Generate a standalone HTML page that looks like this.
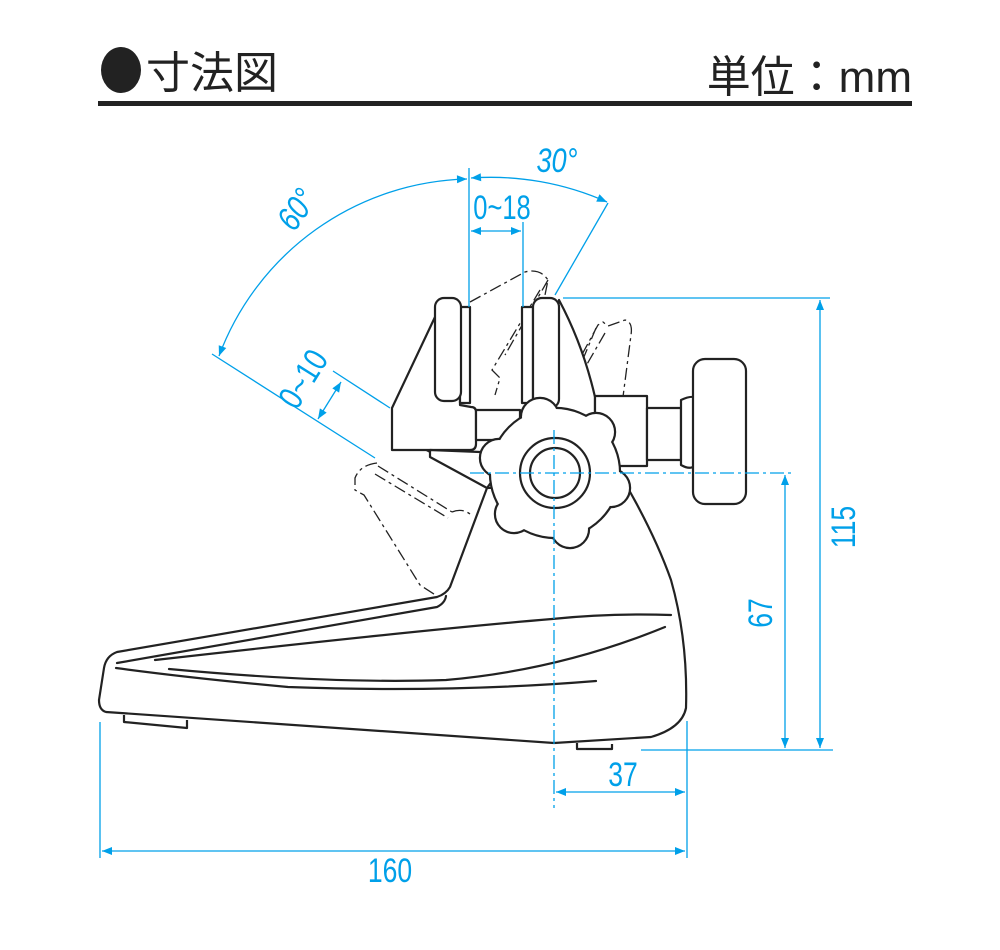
<!DOCTYPE html>
<html><head><meta charset="utf-8"><style>
html,body{margin:0;padding:0;background:#fff;}
svg{display:block;}
.k{fill:none;stroke:#222;stroke-width:2.2;stroke-linejoin:round;stroke-linecap:round;}
.kw{fill:#fff;stroke:#222;stroke-width:2.2;stroke-linejoin:round;}
.ph{fill:none;stroke:#222;stroke-width:1.3;stroke-dasharray:12 4 3 4;}
.c{fill:none;stroke:#00a0e9;stroke-width:1.3;}
.cd{fill:none;stroke:#00a0e9;stroke-width:1.3;stroke-dasharray:14 4 3 4;}
.t{fill:#00a0e9;font-family:"Liberation Sans",sans-serif;font-size:34px;}
</style></head><body>
<svg width="1000" height="950" viewBox="0 0 1000 950" xmlns="http://www.w3.org/2000/svg">
<defs>
<marker id="a" viewBox="0 0 10 10" refX="10" refY="5" markerWidth="14" markerHeight="10" markerUnits="userSpaceOnUse" orient="auto-start-reverse"><path d="M0,1 L10,5 L0,9 Z" fill="#00a0e9"/></marker>
</defs>
<!-- header -->
<ellipse cx="121" cy="70" rx="20" ry="23" fill="#222"/>
<text x="146" y="88" font-family="'Liberation Sans','Noto Sans CJK JP',sans-serif" font-size="44" fill="#222">寸法図</text>
<text x="912" y="92" text-anchor="end" font-family="'Liberation Sans','Noto Sans CJK JP',sans-serif" font-size="44" fill="#222">単位：mm</text>
<rect x="98" y="101" width="814" height="5" fill="#222"/>

<!-- phantom jaws -->
<path class="ph" d="M470,302 L525,272 Q540,268 548,280 L544,300 M548,280 L505,355 M540,290 L498,360 L492,370 L500,378 L495,395"/>
<path class="ph" d="M560,395 L598,325 L603,322 L608,326 L625,320 Q633,322 631,335 L620,420 L612,450 M596,328 L568,395 M605,333 L575,385"/>
<path class="ph" d="M478,440 L408,418 Q398,420 400,432 L402,445 M405,425 L480,470 M403,438 L478,478"/>
<path class="ph" d="M377,463 Q360,465 355,478 L355,490 L364,495 L420,585 L437,596 M378,466 L452,512 M375,474 L448,518 M452,512 Q462,508 470,514"/>

<!-- base -->
<path class="kw" d="M487,488 L450,587 Q446,594 437,597 L117,652 Q106,656 104,668 L99,700 Q99,710 106,712 L554,743 L651,737 Q682,728 686,708 Q688,640 671,580 Q655,535 625,483 Z"/>
<path class="k" d="M117,663 L437,607 Q445,603 446,596"/>
<path class="k" d="M155,660 Q420,630 552,619 Q610,613 671,615"/>
<path class="k" d="M116,668 Q190,678 288,687 Q450,693 596,681"/>
<path class="k" d="M169,669 Q330,684 446,680 Q560,670 665,627"/>
<path class="kw" d="M124,715 L124,722 L187,728 L187,720"/>
<path class="kw" d="M577,743 L577,749 L612,749 L612,744"/>

<!-- frame head -->
<path class="kw" d="M435,317 L392,408 L392,450 L470,450 Q476,450 476,444 L476,412 Q476,407 471,407 L460,405 L460,317 Z"/>
<path class="kw" d="M430,450 L430,457 L487,488 L500,470 L480,452 Z"/>
<path class="kw" d="M476,410 L520,410 L520,440 L476,440 Z"/>
<path class="kw" d="M559,300 Q583,345 595,397 L595,460 L560,470 L545,405 Z"/>
<rect class="kw" x="595" y="396" width="52" height="70"/>
<rect class="kw" x="647" y="408" width="34" height="52"/>
<path class="kw" d="M681,400 Q692,395 694,398 L694,466 Q690,470 681,465 Z"/>
<rect class="kw" x="693" y="359" width="53" height="145" rx="12"/>
<!-- anvils -->
<rect class="kw" x="460" y="307" width="10" height="96"/>
<rect class="kw" x="435" y="298" width="26" height="103" rx="9"/>
<rect class="kw" x="522" y="307" width="11" height="96"/>
<rect class="kw" x="533" y="298" width="26" height="110" rx="9"/>

<!-- knob -->
<g transform="translate(555,473)">
<g fill="none" stroke="#222" stroke-width="4.4">
<circle r="64"/><circle cx="56" cy="15" r="18"/><circle cx="15" cy="56" r="18"/><circle cx="-41" cy="41" r="18"/><circle cx="-56" cy="-15" r="18"/><circle cx="-15" cy="-56" r="18"/><circle cx="41" cy="-41" r="18"/>
</g>
<g fill="#fff">
<circle r="64"/><circle cx="56" cy="15" r="18"/><circle cx="15" cy="56" r="18"/><circle cx="-41" cy="41" r="18"/><circle cx="-56" cy="-15" r="18"/><circle cx="-15" cy="-56" r="18"/><circle cx="41" cy="-41" r="18"/>
</g>
<circle class="k" r="35"/><circle class="k" r="25"/>
</g>

<!-- centerlines -->
<path class="cd" d="M554,430 L554,808"/>
<path class="cd" d="M470,473 L795,473"/>

<!-- dimensions -->
<path class="c" d="M100,722 L100,858 M687,721 L687,858 M641,750 L833,750 M563,298 L830,298"/>
<path class="c" d="M102,851 L685,851" marker-start="url(#a)" marker-end="url(#a)"/>
<text class="t" transform="translate(390,882) scale(0.78 1)" text-anchor="middle">160</text>
<path class="c" d="M556,792 L685,792" marker-start="url(#a)" marker-end="url(#a)"/>
<text class="t" transform="translate(623,786) scale(0.78 1)" text-anchor="middle">37</text>
<path class="c" d="M785,475 L785,748" marker-start="url(#a)" marker-end="url(#a)"/>
<text class="t" transform="translate(772,613) rotate(-90) scale(0.78 1)" text-anchor="middle">67</text>
<path class="c" d="M820,300 L820,748" marker-start="url(#a)" marker-end="url(#a)"/>
<text class="t" transform="translate(855,527) rotate(-90) scale(0.78 1)" text-anchor="middle">115</text>

<path class="c" d="M469,168 L469,307 M523,222 L523,307"/>
<path class="c" d="M471,231 L521,231" marker-start="url(#a)" marker-end="url(#a)"/>
<text class="t" transform="translate(502,219) scale(0.75 1)" text-anchor="middle" font-size="30">0~18</text>

<path class="c" d="M608,203 L555,295"/>
<path class="c" d="M219,356 A272,272 0 0 1 467,179" marker-start="url(#a)" marker-end="url(#a)"/>
<path class="c" d="M471,178 A285,285 0 0 1 607,202" marker-start="url(#a)" marker-end="url(#a)"/>
<text class="t" transform="translate(557,172) scale(0.8 1)" text-anchor="middle" font-size="30" font-style="italic">30°</text>
<text class="t" transform="translate(306,216) rotate(-55) scale(0.8 1)" text-anchor="middle" font-size="30" font-style="italic">60°</text>

<path class="c" d="M212,354 L375,458 M333,371 L390,408"/>
<path class="c" d="M341,382 L318,419" marker-start="url(#a)" marker-end="url(#a)"/>
<text class="t" transform="translate(313,385) rotate(-58) scale(0.8 1)" text-anchor="middle" font-size="28">0~10</text>
</svg>
</body></html>
